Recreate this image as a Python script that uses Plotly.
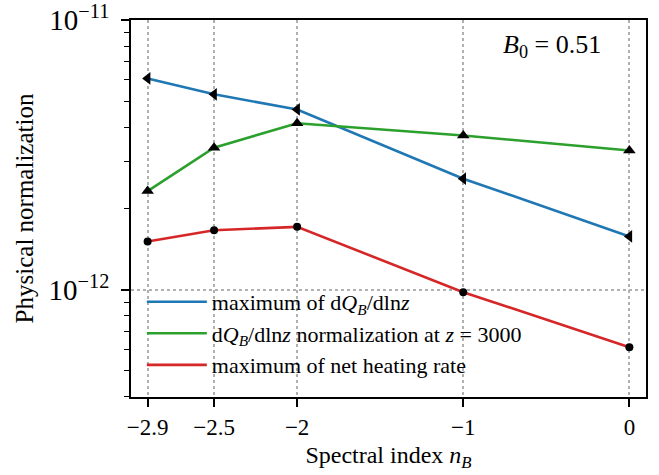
import plotly.graph_objects as go

n_B = [-2.9, -2.5, -2.0, -1.0, 0.0]
max_dQ = [6.07e-12, 5.30e-12, 4.66e-12, 2.58e-12, 1.575e-12]
norm_z3000 = [2.32e-12, 3.36e-12, 4.14e-12, 3.73e-12, 3.28e-12]
max_heating = [1.51e-12, 1.66e-12, 1.71e-12, 9.79e-13, 6.12e-13]

x_ticks = [-2.9, -2.5, -2, -1, 0]
x_ticklabels = ["−2.9", "−2.5", "−2", "−1", "0"]
y_ticks = [1e-12, 1e-11]
y_ticklabels = ["10<sup>−12</sup>", "10<sup>−11</sup>"]
y_minor = [m * 1e-13 for m in range(4, 10)] + [m * 1e-12 for m in range(2, 10)]

names = [
    "maximum of d<i>Q</i><sub><i>B</i></sub>/dln<i>z</i>",
    "d<i>Q</i><sub><i>B</i></sub>/dln<i>z</i> normalization at <i>z</i> = 3000",
    "maximum of net heating rate",
]
colors = ["#1f77b4", "#2ca02c", "#d62728"]
symbols = ["triangle-left", "triangle-up", "circle"]
msizes = [11, 11, 8]
series = [max_dQ, norm_z3000, max_heating]

FONT = "Liberation Serif"
fig = go.Figure()
for i, (ys, nm, c) in enumerate(zip(series, names, colors)):
    fig.add_trace(go.Scatter(x=n_B, y=ys, mode="lines", name=nm,
                             line=dict(color=c, width=2.6),
                             legendgroup=str(i)))
for ys, sym, ms in zip(series, symbols, msizes):
    fig.add_trace(go.Scatter(x=n_B, y=ys, mode="markers", showlegend=False,
                             marker=dict(symbol=sym, size=ms, color="black",
                                         line=dict(width=0))))

fig.add_annotation(text="<i>B</i><sub>0</sub> = 0.51", xref="paper", yref="paper",
                   x=0.917, y=0.93, xanchor="right", yanchor="middle",
                   showarrow=False, font=dict(family=FONT, size=26, color="black"))

fig.update_layout(
    width=659, height=475,
    margin=dict(l=131, r=13, t=20, b=78, autoexpand=False),
    paper_bgcolor="white", plot_bgcolor="white",
    font=dict(family=FONT, color="black"),
    legend=dict(x=0.021, y=0.308, xanchor="left", yanchor="top",
                bgcolor="rgba(255,255,255,0)", font=dict(family=FONT, size=22),
                traceorder="grouped", tracegroupgap=0, itemwidth=60),
    xaxis=dict(range=[-3.0, 0.1], tickvals=x_ticks, ticktext=x_ticklabels,
               showgrid=True, gridcolor="#b0b0b0", griddash="dot", gridwidth=1.5,
               showline=True, mirror=True, linecolor="black", linewidth=1.8,
               ticks="outside", ticklen=8, tickwidth=1.5, tickcolor="black",
               tickfont=dict(family=FONT, size=23), zeroline=False, automargin=False,
               title=dict(text="Spectral index <i>n</i><sub><i>B</i></sub>",
                          font=dict(family=FONT, size=24), standoff=8)),
    yaxis=dict(type="log", range=[-12.398, -11.0], tickvals=y_ticks, ticktext=y_ticklabels,
               showgrid=True, gridcolor="#b0b0b0", griddash="dot", gridwidth=1.5,
               showline=True, mirror=True, linecolor="black", linewidth=1.8,
               ticks="outside", ticklen=8, tickwidth=1.5, tickcolor="black",
               tickfont=dict(family=FONT, size=29), zeroline=False, automargin=False,
               ticklabelstandoff=6, ticklabeloverflow="allow",
               minor=dict(tickvals=y_minor, ticks="outside", ticklen=5, tickwidth=1.2,
                          tickcolor="black", showgrid=False),
               title=dict(text="Physical normalization",
                          font=dict(family=FONT, size=25), standoff=8)),
)

fig.write_html("out.html")
